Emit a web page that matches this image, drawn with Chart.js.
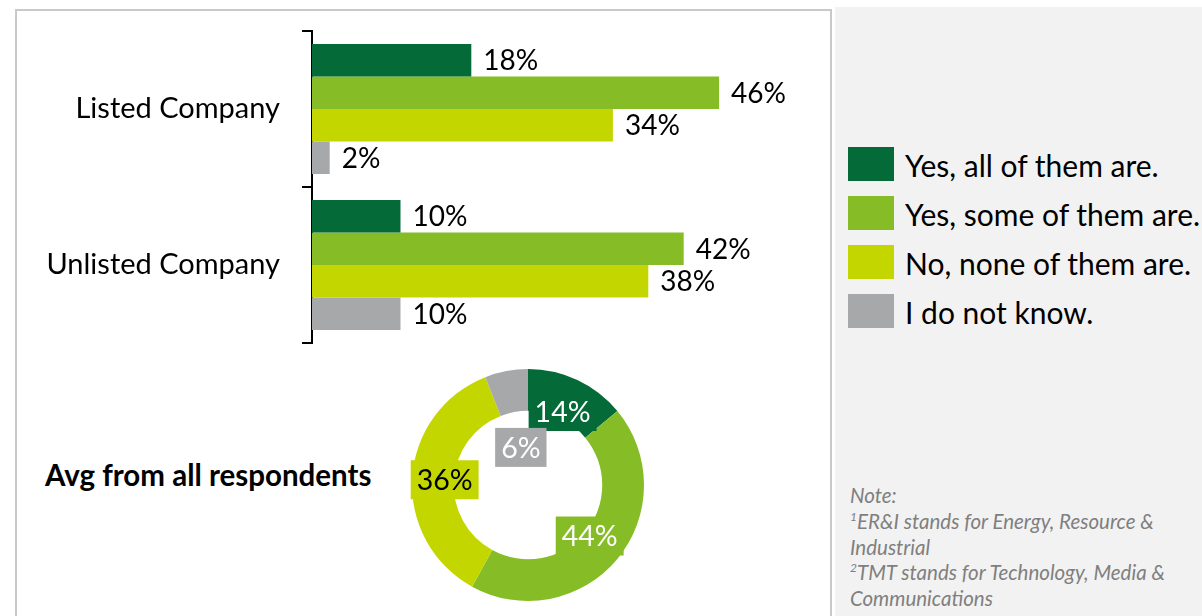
<!DOCTYPE html>
<html>
<head>
<meta charset="utf-8">
<script src="https://cdn.jsdelivr.net/npm/chart.js@4.4.1/dist/chart.umd.min.js"></script>
<style>
  html, body { margin:0; padding:0; width:1202px; height:616px; overflow:hidden; background:#fff; font-family: Lato, "Open Sans", sans-serif; }
  #leftPanel { position:absolute; left:15px; top:9px; width:813px; height:700px; border:2px solid #c9c9c7; border-bottom:none; box-sizing:content-box; }
  #rightPanel { position:absolute; left:835px; top:7px; right:0; bottom:0; background:#f2f2f2; }
  #barCanvas { position:absolute; left:0; top:0; }
  #donutCanvas { position:absolute; left:392px; top:359px; }
  #avgTitle { position:absolute; left:45px; top:457px; font-weight:bold; font-size:29.5px; line-height:36px; color:#000; white-space:nowrap; }
  .lg { position:absolute; left:848px; height:34px; white-space:nowrap; }
  .lg .sw { position:absolute; left:0; top:0; width:46px; height:34px; }
  .lg .tx { position:absolute; left:57px; top:1px; font-size:30px; line-height:34px; color:#000; }
  #note { position:absolute; left:850px; top:483px; font-style:italic; font-size:20.5px; line-height:25.8px; color:#7f7f7f; white-space:nowrap; }
  #note sup { font-size:12px; vertical-align:8px; line-height:0; }
</style>
</head>
<body>
<div id="leftPanel"></div>
<div id="rightPanel"></div>
<canvas id="barCanvas" width="830" height="360"></canvas>
<canvas id="donutCanvas" width="272" height="252"></canvas>
<div id="avgTitle">Avg from all respondents</div>
<div id="legend"></div>
<div id="note">Note:<br><sup>1</sup>ER&amp;I stands for Energy, Resource &amp;<br>Industrial<br><sup>2</sup>TMT stands for Technology, Media &amp;<br>Communications</div>
<script>
// ---- data ----
const categories = ["Listed Company", "Unlisted Company"];
const seriesNames = ["Yes, all of them are.", "Yes, some of them are.", "No, none of them are.", "I do not know."];
const yesAll = [18, 10];
const yesSome = [46, 42];
const noneAre = [34, 38];
const dontKnow = [2, 10];
const avgAll = [14, 44, 36, 6];

// ---- style ----
const colors = ["#046A38", "#86BC25", "#C4D600", "#A7A8AA"];
const donutTextColors = ["#ffffff", "#ffffff", "#000000", "#ffffff"];
const donutLabelRadius = [0.70, 0.69, 0.72, 0.33];
const FONT = "Lato";

// legend (HTML)
const legendEl = document.getElementById('legend');
seriesNames.forEach((n, i) => {
  const d = document.createElement('div');
  d.className = 'lg';
  d.style.top = (147 + 49 * i) + 'px';
  d.innerHTML = '<div class="sw" style="background:' + colors[i] + '"></div><div class="tx">' + n + '</div>';
  legendEl.appendChild(d);
});

const barValueLabels = {
  id: 'barValueLabels',
  afterDatasetsDraw(chart) {
    const ctx = chart.ctx;
    ctx.save();
    ctx.font = '28px ' + FONT;
    ctx.fillStyle = '#000';
    ctx.textAlign = 'left';
    ctx.textBaseline = 'middle';
    chart.data.datasets.forEach((ds, di) => {
      const meta = chart.getDatasetMeta(di);
      meta.data.forEach((el, i) => {
        ctx.fillText(ds.data[i] + '%', el.x + 12, el.y + 1);
      });
    });
    ctx.restore();
  }
};

const seriesValues = [yesAll, yesSome, noneAre, dontKnow];
new Chart(document.getElementById('barCanvas'), {
  type: 'bar',
  data: {
    labels: categories,
    datasets: seriesNames.map((n, i) => ({
      label: n,
      data: seriesValues[i],
      backgroundColor: colors[i],
      borderWidth: 0,
      categoryPercentage: 0.833,
      barPercentage: 1
    }))
  },
  options: {
    indexAxis: 'y',
    responsive: false,
    animation: false,
    events: [],
    layout: { padding: { left: 0, right: 75.5, top: 31, bottom: 17 } },
    plugins: { legend: { display: false }, tooltip: { enabled: false } },
    scales: {
      x: { display: false, min: 0, max: 50 },
      y: {
        grid: { offset: true, drawOnChartArea: false, drawTicks: true, tickLength: 10, color: '#000', lineWidth: 2 },
        border: { display: true, color: '#000', width: 2 },
        ticks: { color: '#000', font: { family: FONT, size: 29 }, padding: 22 },
        afterFit(scale) { scale.width = 312; scale.paddingTop = 0; scale.paddingBottom = 0; }
      }
    }
  },
  plugins: [barValueLabels]
});

const donutLabels = {
  id: 'donutLabels',
  afterDatasetsDraw(chart) {
    const ctx = chart.ctx;
    const meta = chart.getDatasetMeta(0);
    const data = chart.data.datasets[0].data;
    ctx.save();
    ctx.font = '28.5px ' + FONT;
    ctx.textAlign = 'center';
    ctx.textBaseline = 'middle';
    meta.data.forEach((el, i) => {
      const p = el.getProps(['x', 'y', 'startAngle', 'endAngle', 'outerRadius']);
      const mid = (p.startAngle + p.endAngle) / 2;
      const r = p.outerRadius * donutLabelRadius[i];
      const cx = p.x + Math.cos(mid) * r;
      const cy = p.y + Math.sin(mid) * r;
      const txt = data[i] + '%';
      const w = ctx.measureText(txt).width + 12;
      const h = 39;
      ctx.fillStyle = colors[i];
      ctx.fillRect(cx - w / 2, cy - h / 2, w, h);
      ctx.fillStyle = donutTextColors[i];
      ctx.fillText(txt, cx, cy + 1);
    });
    ctx.restore();
  }
};

new Chart(document.getElementById('donutCanvas'), {
  type: 'doughnut',
  data: {
    labels: seriesNames,
    datasets: [{ data: avgAll, backgroundColor: colors, borderWidth: 0 }]
  },
  options: {
    responsive: false,
    animation: false,
    events: [],
    cutout: '64%',
    layout: { padding: { left: 20, right: 20, top: 10, bottom: 10 } },
    plugins: { legend: { display: false }, tooltip: { enabled: false } }
  },
  plugins: [donutLabels]
});
</script>
</body>
</html>
